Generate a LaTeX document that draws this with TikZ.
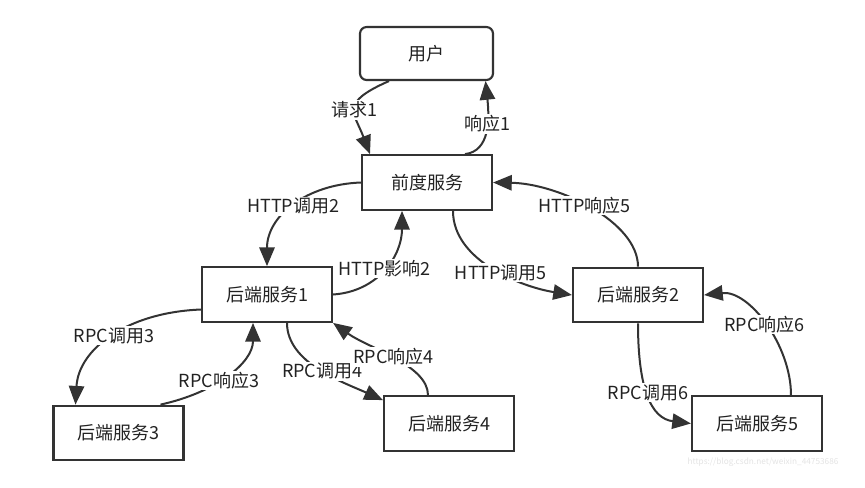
\documentclass[tikz,border=0pt]{standalone}
\usepackage{fontspec}
\setmainfont{Noto Sans CJK SC}
\usepackage{tikz}
\usetikzlibrary{arrows.meta}
\usetikzlibrary{positioning}
\usetikzlibrary{calc}

\definecolor{ink}{RGB}{51,51,51}
\definecolor{txt}{RGB}{34,34,34}

\tikzset{
  svcbox/.style={draw=ink, line width=1.6pt, minimum width=97.5pt, minimum height=41pt,
    inner sep=0pt, text=txt, font=\fontsize{13.5}{15}\selectfont},
  link/.style={draw=ink, line width=1.5pt, -{Triangle[length=14pt,width=11.5pt]}},
  lbl/.style={fill=white, inner sep=1pt, text=txt, font=\fontsize{13.5}{15}\selectfont},
}

\begin{document}
\begin{tikzpicture}[x=0.75pt,y=0.75pt,yscale=-1,xscale=1]
\useasboundingbox (0,0) rectangle (865,487); %set diagram size as the reference

%Rounded Rect
\node[svcbox, rounded corners=5pt, minimum width=99.75pt, minimum height=39.75pt] (user) at (426.5,53.5) {用户};
%Shape: Rectangle
\node[svcbox] (front) at (427,182.5) {前度服务};
%Shape: Rectangle
\node[svcbox] (b1) at (267,294.5) {后端服务1};
%Shape: Rectangle
\node[svcbox] (b2) at (638,295) {后端服务2};
%Shape: Rectangle
\node[svcbox] (b3) at (118.5,433) {后端服务3};
%Shape: Rectangle
\node[svcbox] (b4) at (449,423.5) {后端服务4};
%Shape: Rectangle
\node[svcbox] (b5) at (757,423.5) {后端服务5};

%Curve Lines
\draw[link] ($(user.south)+(-37.5,0)$) .. controls +(-50,22) and +(-16,-42) .. ($(front.north)+(-57,0)$)
  node[lbl,pos=0.5] (req1) {请求1};
%Curve Lines
\draw[link] ($(front.north)+(38,0)$) .. controls +(25,-3) and +(4,38) .. ($(user.south)+(59,0)$)
  node[lbl,pos=0.58] (resp1) {响应1};
%Curve Lines
\draw[link] (front.west) .. controls +(-55,2) and +(0,-50) .. (b1.north)
  node[lbl,pos=0.5] (call2) {HTTP调用2};
%Curve Lines
\draw[link] (b1.east) .. controls +(45,-3) and +(0,45) .. ($(front.south)+(-25,0)$)
  node[lbl,pos=0.5] (resp2) {HTTP影响2};
%Curve Lines
\draw[link] ($(front.south)+(26,0)$) .. controls +(0,50) and +(-50,-8) .. (b2.west)
  node[lbl,pos=0.55] (call5) {HTTP调用5};
%Curve Lines
\draw[link] (b2.north) .. controls +(0,-45) and +(65,1) .. (front.east)
  node[lbl,pos=0.53] (resp5) {HTTP响应5};
%Curve Lines
\draw[link] ($(b1.west)+(0,15)$) .. controls +(-75,3) and +(3,-55) .. ($(b3.north)+(-43,0)$)
  node[lbl,pos=0.48] (call3) {RPC调用3};
%Curve Lines
\draw[link] ($(b3.north)+(42,0)$) .. controls +(55,-12) and +(0,40) .. ($(b1.south)+(-14,0)$)
  node[lbl,pos=0.42] (resp3) {RPC响应3};
%Curve Lines
\draw[link] ($(b1.south)+(20,0)$) .. controls +(0,40) and +(-40,-18) .. ($(b4.north west)+(0,5)$)
  node[lbl,pos=0.52] (call4) {RPC调用4};
%Curve Lines
\draw[link] ($(b4.north)+(-21,0)$) .. controls +(0,-30) and +(35,25) .. (b1.south east)
  node[lbl,pos=0.5] (resp4) {RPC响应4};
%Curve Lines
\draw[link] (b2.south) .. controls +(0,65) and +(-40,-5) .. (b5.west)
  node[lbl,pos=0.47] (call6) {RPC调用6};
%Curve Lines
\draw[link] ($(b5.north)+(34,0)$) .. controls +(0,-50) and +(45,-5) .. (b2.east)
  node[lbl,pos=0.5] (resp6) {RPC响应6};

% Text Node
\node[font=\fontsize{6.2}{7}\selectfont, text=gray!22] (wm) at (763,462) {https://blog.csdn.net/weixin\_44753686};

\end{tikzpicture}
\end{document}
